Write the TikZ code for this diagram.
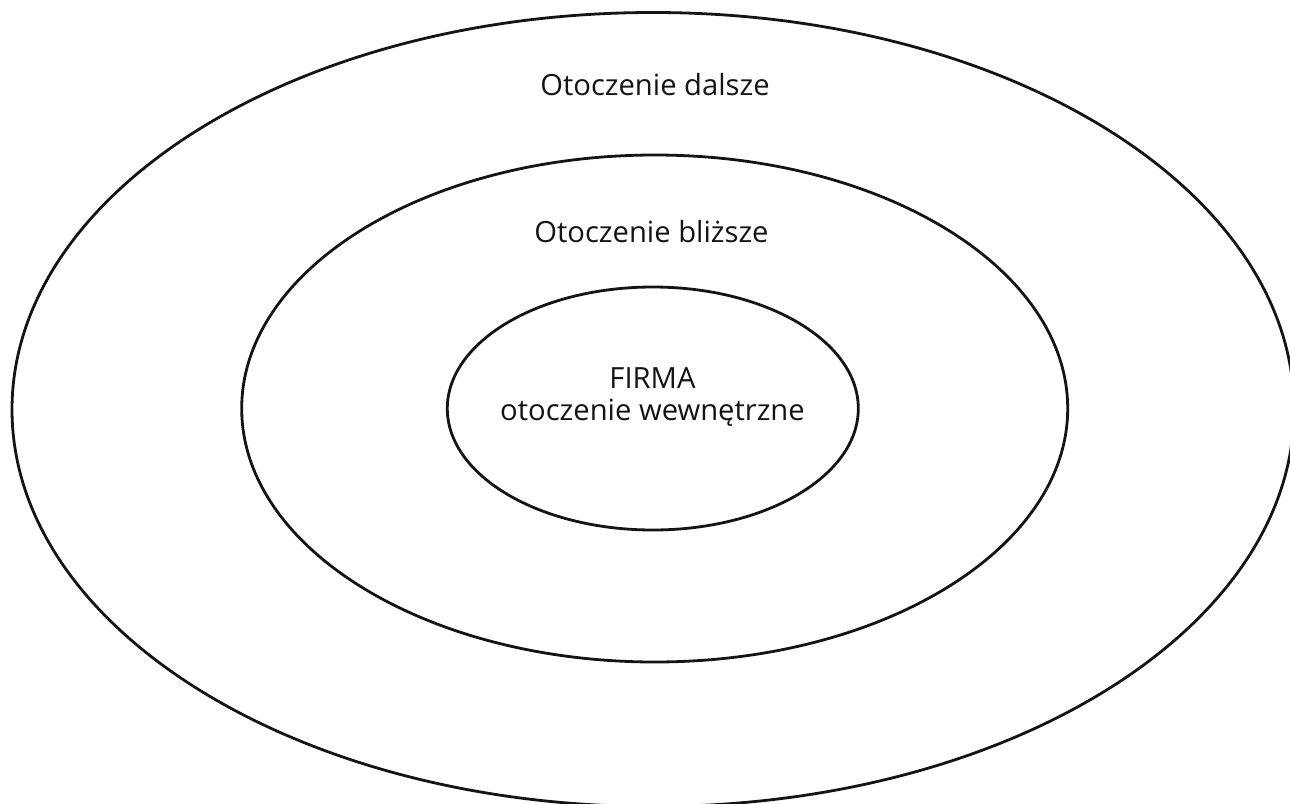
\documentclass[tikz,border=0pt]{standalone}
\usepackage{fontspec}
\setmainfont{Open Sans}
\usetikzlibrary{shapes.geometric}
\begin{document}
\begin{tikzpicture}[x=1pt,y=-1pt,
  ring/.style={draw=black!92,line width=2.8pt,ellipse,inner sep=0pt,outer sep=0pt},
  lbl/.style={anchor=base,inner sep=0pt,font=\fontsize{29.2}{34}\selectfont,text=black!92}]
\useasboundingbox (0,0) rectangle (1290,803);
\node[ring,minimum width=1282pt,minimum height=794pt] (outer) at (653,409.5) {};
\node[ring,minimum width=826pt,minimum height=507pt] (middle) at (654.7,408.5) {};
\node[ring,minimum width=411pt,minimum height=243pt] (inner) at (652.8,408.5) {};
\node[lbl] (dalsze) at (655,95) {Otoczenie dalsze};
\node[lbl] (blizsze) at (651.5,242) {Otoczenie bliższe};
\node[lbl] (firma) at (652.5,388) {FIRMA};
\node[lbl] (wew) at (652.5,420) {otoczenie wewnętrzne};
\end{tikzpicture}
\end{document}
